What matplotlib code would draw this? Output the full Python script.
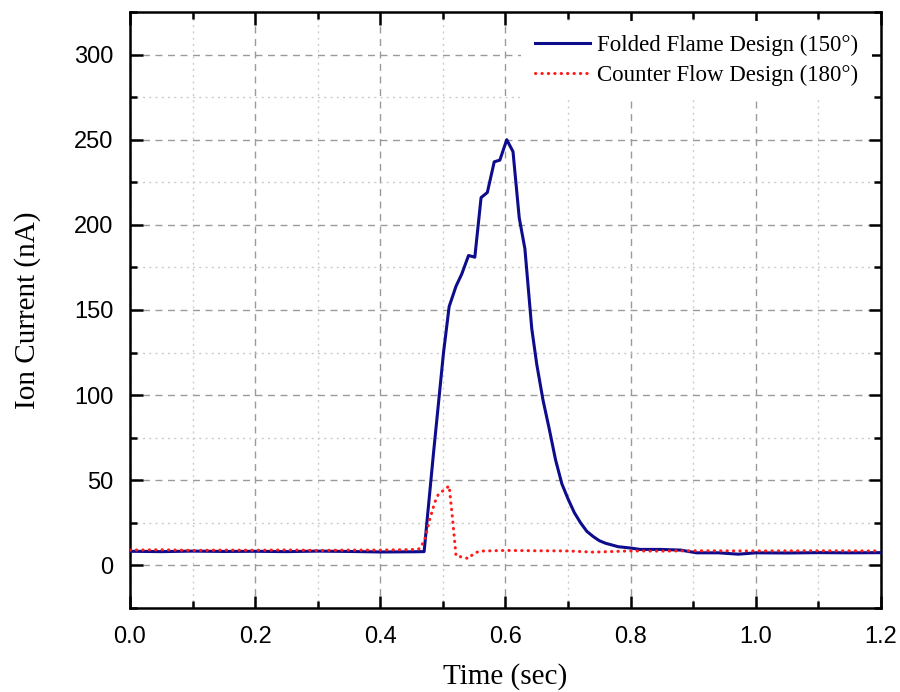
import matplotlib
matplotlib.use("Agg")
import matplotlib.pyplot as plt
from matplotlib.ticker import MultipleLocator

# Folded Flame Design (150°)
t_folded = [0.00, 0.05, 0.10, 0.15, 0.20, 0.25, 0.30, 0.35, 0.40, 0.45, 0.470,
            0.485, 0.501, 0.510, 0.521, 0.530, 0.541, 0.551, 0.561, 0.571, 0.582,
            0.591, 0.602, 0.612, 0.622, 0.631, 0.642, 0.650, 0.660, 0.670, 0.680,
            0.690, 0.700, 0.710, 0.720, 0.730, 0.740, 0.750, 0.760, 0.780, 0.800,
            0.815, 0.847, 0.880, 0.905, 0.940, 0.972, 1.000, 1.050, 1.100, 1.150, 1.200]
i_folded = [8.3, 8.1, 8.4, 8.2, 8.3, 8.1, 8.4, 8.2, 7.9, 8.0, 8.1,
            66, 125, 152, 164, 171, 182, 181, 216, 219, 237,
            238, 250, 243, 204, 186, 139, 118, 97, 80, 62,
            48, 39, 31, 25, 20, 17, 14.5, 13, 11, 10.2,
            9.4, 9.4, 9.0, 7.4, 7.4, 6.6, 7.4, 7.3, 7.5, 7.4, 7.5]

# Counter Flow Design (180°)
t_counter = [0.00, 0.05, 0.10, 0.15, 0.20, 0.25, 0.30, 0.35, 0.40, 0.45, 0.463,
             0.471, 0.479, 0.487, 0.493, 0.501, 0.510, 0.5155, 0.521, 0.530, 0.541,
             0.549, 0.559, 0.60, 0.65, 0.70, 0.74, 0.80, 0.85, 0.90, 1.00, 1.10, 1.20]
i_counter = [9.0, 9.2, 8.8, 9.0, 8.9, 9.1, 8.8, 9.0, 9.0, 9.3, 9.8,
             15, 27, 37, 42, 44, 46.7, 27, 5.5, 5.0, 4.0,
             7.0, 8.4, 8.8, 8.6, 8.5, 7.8, 8.5, 8.4, 8.6, 8.5, 8.6, 8.5]

x_ticks = [0.0, 0.2, 0.4, 0.6, 0.8, 1.0, 1.2]
x_tick_labels = ["0.0", "0.2", "0.4", "0.6", "0.8", "1.0", "1.2"]
y_ticks = [0, 50, 100, 150, 200, 250, 300]

fig = plt.figure(figsize=(9, 6.92), dpi=100)
ax = fig.add_axes([0.1444, 0.1214, 0.8345, 0.8613])

ax.plot(t_folded, i_folded, color="#0c0c8c", lw=2.2, solid_joinstyle="round",
        label="Folded Flame Design (150°)", zorder=3)
ax.plot(t_counter, i_counter, color="#ff1a1a", lw=2.2, linestyle=(0, (0.1, 2.0)),
        dash_capstyle="round", label="Counter Flow Design (180°)", zorder=4)

ax.set_xlim(0, 1.2)
ax.set_ylim(-25, 325)
ax.set_xticks(x_ticks)
ax.set_xticklabels(x_tick_labels)
ax.set_yticks(y_ticks)
ax.xaxis.set_minor_locator(MultipleLocator(0.1))
ax.yaxis.set_minor_locator(MultipleLocator(25))

ax.grid(which="major", color="#9a9a9a", linestyle=(0, (5, 4)), lw=1.0)
ax.grid(which="minor", color="#cccccc", linestyle=(0, (1.5, 3)), lw=1.0)
ax.set_axisbelow(True)

tickfont = "Liberation Sans"
for lab in ax.get_xticklabels() + ax.get_yticklabels():
    lab.set_fontfamily(tickfont)
    lab.set_fontsize(17)

ax.tick_params(which="both", direction="in", top=True, right=True, width=1.8)
ax.tick_params(which="major", length=9)
ax.tick_params(which="minor", length=5)
ax.tick_params(axis="x", pad=13)
ax.tick_params(axis="y", pad=12)
for sp in ax.spines.values():
    sp.set_linewidth(1.8)

ax.set_xlabel("Time (sec)", fontfamily="Liberation Serif", fontsize=21, labelpad=11)
ax.set_ylabel("Ion Current (nA)", fontfamily="Liberation Serif", fontsize=21, labelpad=24)

leg = ax.legend(loc="upper right", bbox_to_anchor=(1.0, 1.0), frameon=True,
                fancybox=False, edgecolor="none", facecolor="white", framealpha=1.0,
                prop={"family": "Liberation Serif", "size": 16.5},
                handlelength=2.4, handletextpad=0.3, labelspacing=0.4,
                borderpad=0.6, borderaxespad=0.4)

fig.savefig("out.png", dpi=100)
